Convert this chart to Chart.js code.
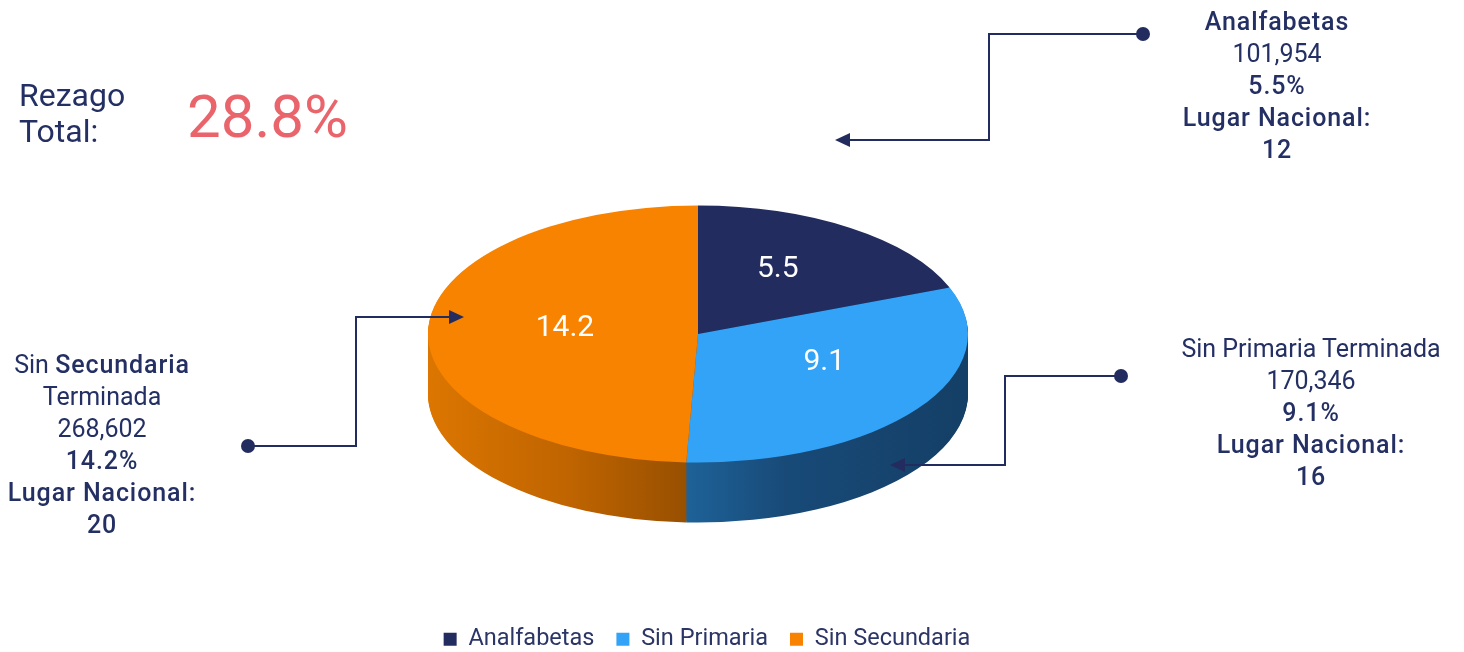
<!DOCTYPE html>
<html>
<head>
<meta charset="utf-8">
<script src="https://cdn.jsdelivr.net/npm/chart.js@4.4.1/dist/chart.umd.min.js"></script>
<style>
  body { margin: 0; background: #fff; font-family: Roboto, sans-serif; color: #243064; }
  #wrap { position: relative; width: 1464px; height: 652px; overflow: hidden; }
  canvas { position: absolute; left: 0; top: 0; }
  .note { position: absolute; text-align: center; font-size: 25px; line-height: 32px; white-space: nowrap; transform: translateX(-50%); }
  .b { font-weight: 500; letter-spacing: 0.9px; }
  #rezago { position: absolute; left: 19px; top: 77px; font-size: 32px; line-height: 36px; }
  #total { position: absolute; left: 187px; top: 86px; font-size: 60px; line-height: 62px; color: #e9646b; }
</style>
</head>
<body>
<div id="wrap">
  <canvas id="pie-chart" width="1464" height="652"></canvas>
  <div id="rezago">Rezago<br>Total:</div>
  <div id="total"></div>
  <div class="note" id="n0" style="left:1277px; top:6px;"></div>
  <div class="note" id="n1" style="left:1311px; top:333px;"></div>
  <div class="note" id="n2" style="left:102px; top:349px;"></div>
</div>
<script>
const categories = ["Analfabetas", "Sin Primaria", "Sin Secundaria"];
const rezago = [5.5, 9.1, 14.2];
const personas = [101954, 170346, 268602];
const lugarNacional = [12, 16, 20];
const totalRezago = 28.8;

const COLORS = ["#232c5e", "#33a3f7", "#f88300"];

// where the tilted pie sits on the page
const CX = 698, CY = 334, SQUASH = 128.5 / 270, DEPTH = 60;

const fmt = v => v.toLocaleString("en-US");

document.getElementById("total").textContent = totalRezago + "%";
document.getElementById("n0").innerHTML =
  `<span class="b">${categories[0]}</span><br>${fmt(personas[0])}<br>` +
  `<span class="b">${rezago[0]}%<br>Lugar Nacional:<br>${lugarNacional[0]}</span>`;
document.getElementById("n1").innerHTML =
  `Sin Primaria Terminada<br>${fmt(personas[1])}<br>` +
  `<span class="b">${rezago[1]}%<br>Lugar Nacional:<br>${lugarNacional[1]}</span>`;
document.getElementById("n2").innerHTML =
  `Sin <span class="b">Secundaria</span><br>Terminada<br>${fmt(personas[2])}<br>` +
  `<span class="b">${rezago[2]}%<br>Lugar Nacional:<br>${lugarNacional[2]}</span>`;

// callout connectors: dot -> elbow -> arrow tip
const callouts = [
  [[1143, 34], [989, 34], [989, 140], [835, 140]],
  [[1121, 376], [1005, 376], [1005, 465], [890, 465]],
  [[248, 446], [356, 446], [356, 317], [464, 317]],
];

function sideFills(ctx, ax) {
  const navy = "#161c3d";
  const blue = ctx.createLinearGradient(ax - 12, 0, ax + 270, 0);
  blue.addColorStop(0, "#1e6298");
  blue.addColorStop(0.35, "#184a78");
  blue.addColorStop(1, "#143f66");
  const orange = ctx.createLinearGradient(ax - 270, 0, ax - 12, 0);
  orange.addColorStop(0, "#dc7600");
  orange.addColorStop(0.55, "#bf6400");
  orange.addColorStop(1, "#985000");
  return [navy, blue, orange];
}

// small nudges for the slice values (tilted-pie look)
const labelShift = [[-1, -1], [10, -4], [10, 3]];

const pie3d = {
  id: "pie3d",
  beforeDatasetsDraw(chart) {
    const ctx = chart.ctx;
    const arcs = chart.getDatasetMeta(0).data;
    const ax = arcs[0].x, ay = arcs[0].y;
    const fills = sideFills(ctx, ax);
    for (let o = DEPTH; o >= 0; o--) {
      ctx.save();
      ctx.translate(CX, CY + o);
      ctx.scale(1, SQUASH);
      ctx.translate(-ax, -ay);
      arcs.forEach((arc, i) => {
        if (o === 0) { arc.draw(ctx); return; }
        const e = Object.create(arc);
        e.options = Object.assign({}, arc.options, { backgroundColor: fills[i], borderWidth: 0 });
        arc.draw.call(e, ctx);
      });
      ctx.restore();
    }
    // values on the slices
    ctx.save();
    ctx.fillStyle = "#ffffff";
    ctx.font = "400 30px Roboto";
    ctx.textAlign = "center";
    ctx.textBaseline = "middle";
    arcs.forEach((arc, i) => {
      const mid = (arc.startAngle + arc.endAngle) / 2;
      const r = arc.outerRadius * 0.53;
      const x = CX + Math.cos(mid) * r + labelShift[i][0];
      const y = CY + Math.sin(mid) * r * SQUASH - 7 + labelShift[i][1];
      ctx.fillText(String(chart.data.datasets[0].data[i]), x, y);
    });
    ctx.restore();
    return false;
  },
  afterDraw(chart) {
    const ctx = chart.ctx;
    ctx.save();
    ctx.strokeStyle = "#232c5e";
    ctx.fillStyle = "#232c5e";
    ctx.lineWidth = 2;
    callouts.forEach(pts => {
      const n = pts.length;
      const tip = pts[n - 1], prev = pts[n - 2];
      const dir = Math.sign(tip[0] - prev[0]);
      ctx.beginPath();
      ctx.moveTo(pts[0][0], pts[0][1]);
      for (let i = 1; i < n - 1; i++) ctx.lineTo(pts[i][0], pts[i][1]);
      ctx.lineTo(tip[0] - dir * 12, tip[1]);
      ctx.stroke();
      ctx.beginPath();
      ctx.moveTo(tip[0], tip[1]);
      ctx.lineTo(tip[0] - dir * 15, tip[1] - 7);
      ctx.lineTo(tip[0] - dir * 15, tip[1] + 7);
      ctx.closePath();
      ctx.fill();
      ctx.beginPath();
      ctx.arc(pts[0][0], pts[0][1], 7, 0, Math.PI * 2);
      ctx.fill();
    });
    ctx.restore();
  }
};

const data = {
  labels: categories,
  datasets: [{
    data: rezago,
    backgroundColor: COLORS,
    borderWidth: 0,
    radius: 270,
  }],
};

const config = {
  type: "pie",
  data: data,
  options: {
    responsive: false,
    animation: false,
    events: [],
    layout: { padding: { right: 50, bottom: -9 } },
    plugins: {
      legend: {
        position: "bottom",
        labels: {
          boxWidth: 13,
          boxHeight: 13,
          padding: 22,
          color: "#2b3566",
          font: { family: "Roboto", size: 23.5 },
        },
      },
      tooltip: { enabled: false },
    },
  },
  plugins: [pie3d],
};

var ctx = document.getElementById("pie-chart").getContext("2d");
var myChart = new Chart(ctx, config);
</script>
</body>
</html>
